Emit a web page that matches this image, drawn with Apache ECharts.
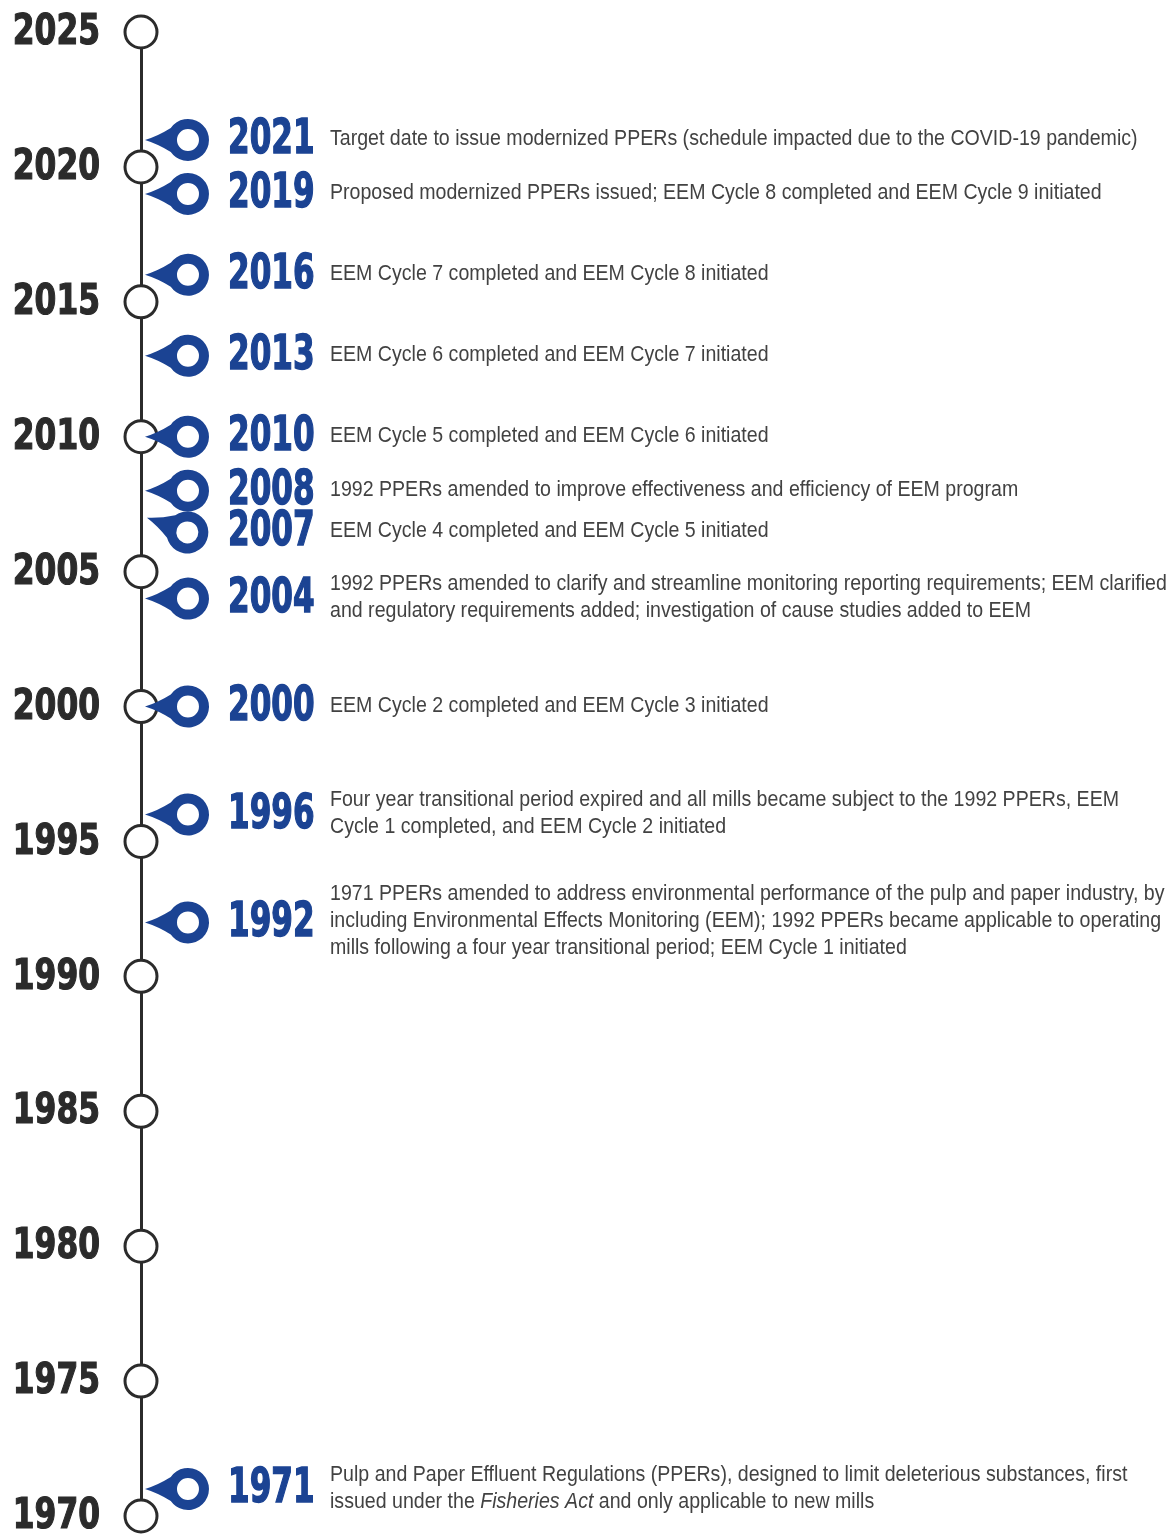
<!DOCTYPE html>
<html>
<head>
<meta charset="utf-8">
<script src="https://cdn.jsdelivr.net/npm/echarts@6/dist/echarts.min.js"></script>
<style>
  html, body { margin: 0; padding: 0; background: #fff; }
  #chart { width: 1174px; height: 1534px; }
</style>
</head>
<body>
<div id="chart"></div>
<script>
const tickYears = [1970, 1975, 1980, 1985, 1990, 1995, 2000, 2005, 2010, 2015, 2020, 2025]
const eventYears = [2021, 2019, 2016, 2013, 2010, 2008, 2007, 2004, 2000, 1996, 1992, 1971]
const eventTexts = [
  'Target date to issue modernized PPERs (schedule impacted due to the COVID-19 pandemic)',
  'Proposed modernized PPERs issued; EEM Cycle 8 completed and EEM Cycle 9 initiated',
  'EEM Cycle 7 completed and EEM Cycle 8 initiated',
  'EEM Cycle 6 completed and EEM Cycle 7 initiated',
  'EEM Cycle 5 completed and EEM Cycle 6 initiated',
  '1992 PPERs amended to improve effectiveness and efficiency of EEM program',
  'EEM Cycle 4 completed and EEM Cycle 5 initiated',
  '1992 PPERs amended to clarify and streamline monitoring reporting requirements; EEM clarified\nand regulatory requirements added; investigation of cause studies added to EEM',
  'EEM Cycle 2 completed and EEM Cycle 3 initiated',
  'Four year transitional period expired and all mills became subject to the 1992 PPERs, EEM\nCycle 1 completed, and EEM Cycle 2 initiated',
  '1971 PPERs amended to address environmental performance of the pulp and paper industry, by\nincluding Environmental Effects Monitoring (EEM); 1992 PPERs became applicable to operating\nmills following a four year transitional period; EEM Cycle 1 initiated',
  'Pulp and Paper Effluent Regulations (PPERs), designed to limit deleterious substances, first\nissued under the {i|Fisheries Act} and only applicable to new mills'
]

const BLUE = '#1b4393'
const DARK = '#2b2b2b'
const TEXT = '#424242'
const HEAVY = '"DejaVu Sans Condensed", "DejaVu Sans", sans-serif'
const PLAIN = '"Liberation Sans", Arial, sans-serif'

// sideways map pin with a hole, tip on the left
const PIN = 'path://M0 21 Q13 17 25.8 9 A21 21 0 1 1 25.8 33 Q13 25 0 21 Z ' +
  'M43 10 A11 11 0 1 0 43 32 A11 11 0 1 0 43 10 Z'

// 2007 is nudged down so it does not sit on top of 2008
function shiftFor(year) {
  return year === 2007 ? 14 : 0
}

const chart = echarts.init(document.getElementById('chart'))

chart.setOption({
  animation: false,
  grid: { left: 141, right: 20, top: 32, bottom: 18, containLabel: false, outerBoundsMode: 'none' },
  xAxis: { type: 'value', min: 0, max: 1, show: false },
  yAxis: {
    type: 'value',
    min: 1970,
    max: 2025,
    interval: 5,
    splitLine: { show: false },
    axisTick: { show: false },
    axisLabel: { show: false },
    axisLine: { show: true, lineStyle: { color: DARK, width: 3 } }
  },
  series: [
    {
      // year tick labels, condensed like the original
      type: 'custom',
      z: 1,
      data: tickYears.map(y => [0, y]),
      renderItem: (params, api) => {
        const pt = api.coord([0, api.value(1)])
        return {
          type: 'text',
          x: 100,
          y: pt[1] + 1,
          scaleX: 0.81,
          style: {
            text: String(api.value(1)),
            fill: DARK,
            stroke: DARK,
            lineWidth: 1.2,
            font: 'bold 43px ' + HEAVY,
            align: 'right',
            verticalAlign: 'middle'
          }
        }
      }
    },
    {
      type: 'scatter',
      z: 2,
      symbol: 'circle',
      symbolSize: 32,
      itemStyle: { color: '#fff', borderColor: DARK, borderWidth: 3, opacity: 1 },
      data: tickYears.map(y => [0, y])
    },
    {
      type: 'scatter',
      z: 3,
      symbol: PIN,
      symbolSize: [64, 42],
      itemStyle: { color: BLUE, opacity: 1 },
      data: eventYears.map(y => ({
        value: [0, y],
        symbolOffset: [36, y === 2007 ? 11 : 0],
        symbolRotate: y === 2007 ? -20 : 0
      }))
    },
    {
      // blue event years and their descriptions
      type: 'custom',
      z: 4,
      data: eventYears.map((y, i) => [0, y, i]),
      renderItem: (params, api) => {
        const year = api.value(1)
        const pt = api.coord([0, year])
        const y = pt[1] + shiftFor(year)
        return {
          type: 'group',
          children: [
            {
              type: 'text',
              x: 228,
              y: y + 1,
              scaleX: 0.72,
              style: {
                text: String(year),
                fill: BLUE,
                stroke: BLUE,
                lineWidth: 1.4,
                font: 'bold 48px ' + HEAVY,
                align: 'left',
                verticalAlign: 'middle'
              }
            },
            {
              type: 'text',
              x: 330,
              y: y - 1,
              scaleX: 0.89,
              style: {
                text: eventTexts[api.value(2)],
                fill: TEXT,
                fontFamily: PLAIN,
                fontSize: 22,
                lineHeight: 27,
                align: 'left',
                verticalAlign: 'middle',
                rich: {
                  i: { fontStyle: 'italic', fill: TEXT, fontFamily: PLAIN, fontSize: 22, lineHeight: 27 }
                }
              }
            }
          ]
        }
      }
    }
  ]
})
</script>
</body>
</html>
